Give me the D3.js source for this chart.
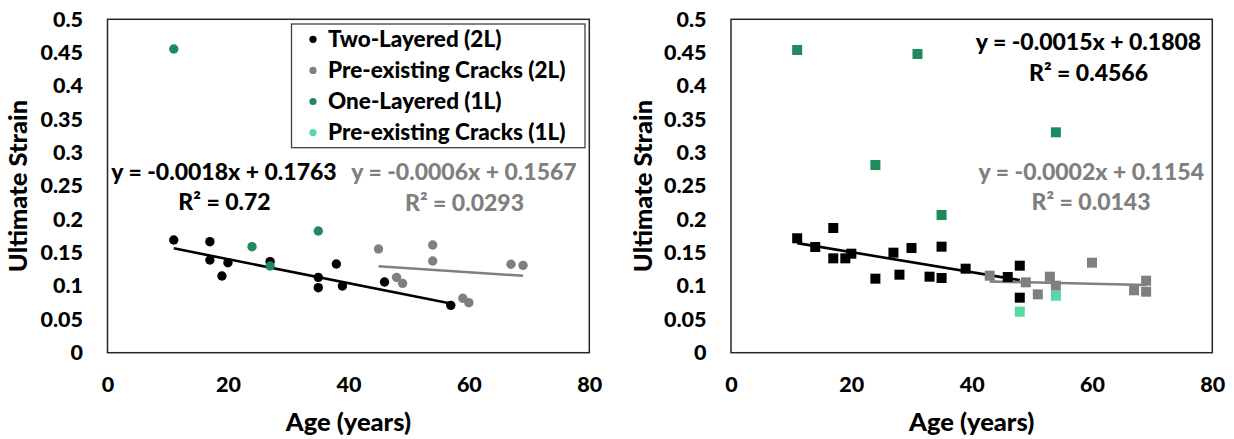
<!DOCTYPE html>
<html>
<head>
<meta charset="utf-8">
<script src="https://cdn.jsdelivr.net/npm/d3@7"></script>
<style>
  html, body { margin: 0; padding: 0; background: #ffffff; }
  svg { display: block; font-family: "Lato", "Carlito", "Liberation Sans", sans-serif; font-weight: 900; }
</style>
</head>
<body>
<svg id="chart" width="1234" height="439"></svg>
<script>
// Axis ticks shared by both panels
const ageTicks = [0, 20, 40, 60, 80];
const strainTicks = [0, 0.05, 0.1, 0.15, 0.2, 0.25, 0.3, 0.35, 0.4, 0.45, 0.5];

// Series names (legend)
const seriesNames = ["Two-Layered (2L)", "Pre-existing Cracks (2L)", "One-Layered (1L)", "Pre-existing Cracks (1L)"];

// Left panel: age (years) and ultimate strain
const leftTwoLayerAge    = [11, 17, 17, 20, 19, 27, 35, 35, 38, 39, 46, 57];
const leftTwoLayerStrain = [0.169, 0.1665, 0.139, 0.135, 0.115, 0.1365, 0.113, 0.0975, 0.133, 0.100, 0.106, 0.071];
const leftCrack2LAge     = [45, 54, 54, 48, 49, 59, 60, 67, 69];
const leftCrack2LStrain  = [0.1555, 0.1615, 0.1375, 0.113, 0.104, 0.0816, 0.075, 0.1326, 0.131];
const leftOneLayerAge    = [11, 24, 35, 27];
const leftOneLayerStrain = [0.4555, 0.159, 0.1825, 0.130];
const leftCrack1LAge     = [];
const leftCrack1LStrain  = [];

// Right panel: age (years) and ultimate strain
const rightTwoLayerAge    = [11, 14, 17, 17, 19, 20, 24, 27, 28, 30, 33, 35, 35, 39, 46, 48, 48];
const rightTwoLayerStrain = [0.1716, 0.1585, 0.187, 0.1415, 0.1415, 0.1485, 0.111, 0.150, 0.117, 0.157, 0.114, 0.159, 0.112, 0.126, 0.1135, 0.1305, 0.0825];
const rightCrack2LAge     = [43, 49, 51, 53, 54, 60, 67, 69, 69];
const rightCrack2LStrain  = [0.1155, 0.1055, 0.0875, 0.114, 0.1005, 0.135, 0.0936, 0.108, 0.0915];
const rightOneLayerAge    = [11, 31, 24, 35, 54];
const rightOneLayerStrain = [0.454, 0.448, 0.2815, 0.2065, 0.3305];
const rightCrack1LAge     = [48, 54];
const rightCrack1LStrain  = [0.0615, 0.0855];

// Linear fits: slope, intercept, R² (left 2L, left cracks 2L, right 2L, right cracks 2L)
const fitSlopes     = [-0.0018, -0.0006, -0.0015, -0.0002];
const fitIntercepts = [0.1763, 0.1567, 0.1808, 0.1154];
const fitR2         = ["0.72", "0.0293", "0.4566", "0.0143"];

const colors = ["#000000", "#7f7f7f", "#1f8a5c", "#5ad8a3"];

const zip = (xs, ys) => xs.map((x, i) => ({ age: x, strain: ys[i] }));
const fmtCoef = v => (v < 0 ? "-" : "") + Math.abs(v).toFixed(4);

const panels = [
  {
    range: [107.5, 589.3],
    shape: "circle",
    series: [
      zip(leftTwoLayerAge, leftTwoLayerStrain),
      zip(leftCrack2LAge, leftCrack2LStrain),
      zip(leftOneLayerAge, leftOneLayerStrain),
      zip(leftCrack1LAge, leftCrack1LStrain)
    ],
    fits: [
      { k: 0, series: 0, eq: [224, 171.7], r2: [224.5, 201.7] },
      { k: 1, series: 1, eq: [464, 171.7], r2: [464.5, 203] }
    ],
    legend: true,
    titleX: 18
  },
  {
    range: [731, 1212.3],
    shape: "square",
    series: [
      zip(rightTwoLayerAge, rightTwoLayerStrain),
      zip(rightCrack2LAge, rightCrack2LStrain),
      zip(rightOneLayerAge, rightOneLayerStrain),
      zip(rightCrack1LAge, rightCrack1LStrain)
    ],
    fits: [
      { k: 2, series: 0, eq: [1088.5, 41.7], r2: [1088.5, 73.3] },
      { k: 3, series: 1, eq: [1091.3, 171.7], r2: [1091, 201.7] }
    ],
    legend: false,
    titleX: 643
  }
];

const svg = d3.select("#chart");
const yTop = 19.3, yBottom = 352.7;

panels.forEach(p => {
  const x = d3.scaleLinear().domain([0, 80]).range(p.range);
  const y = d3.scaleLinear().domain([0, 0.5]).range([yBottom, yTop]);
  const g = svg.append("g");

  // plot area frame
  g.append("rect")
    .attr("x", p.range[0]).attr("y", yTop)
    .attr("width", p.range[1] - p.range[0]).attr("height", yBottom - yTop)
    .attr("fill", "#ffffff").attr("stroke", "#262626").attr("stroke-width", 1.5);

  // axes
  const yAxis = g.append("g")
    .attr("transform", `translate(${p.range[0]},0)`)
    .call(d3.axisLeft(y).tickValues(strainTicks).tickSize(0).tickPadding(24.5).tickFormat(d => String(+d.toFixed(2))));
  const xAxis = g.append("g")
    .attr("transform", `translate(0,${yBottom})`)
    .call(d3.axisBottom(x).tickValues(ageTicks).tickSize(0).tickPadding(24).tickFormat(d3.format("d")));
  [yAxis, xAxis].forEach(a => {
    a.select(".domain").remove();
    a.selectAll("text")
      .attr("fill", "#000000")
      .style("font-family", "Lato, Carlito, sans-serif")
      .style("font-weight", "900")
      .style("font-size", "21.5px");
  });

  // axis titles
  g.append("text")
    .attr("transform", `translate(${p.titleX},${(yTop + yBottom) / 2}) rotate(-90)`)
    .attr("text-anchor", "middle").attr("dy", "0.35em")
    .style("font-size", "25.5px").attr("fill", "#000")
    .text("Ultimate Strain");
  g.append("text")
    .attr("x", (p.range[0] + p.range[1]) / 2).attr("y", 422)
    .attr("text-anchor", "middle").attr("dy", "0.35em")
    .style("font-size", "25.5px").attr("fill", "#000")
    .text("Age (years)");

  // trend lines (drawn over the fitted range of each series)
  p.fits.forEach(f => {
    const ages = p.series[f.series].map(d => d.age);
    const a0 = d3.min(ages), a1 = d3.max(ages);
    const line = d3.line().x(d => x(d)).y(d => y(fitSlopes[f.k] * d + fitIntercepts[f.k]));
    g.append("path")
      .attr("d", line([a0, a1]))
      .attr("fill", "none")
      .attr("stroke", colors[f.series])
      .attr("stroke-width", 2.6);
  });

  // markers
  p.series.forEach((data, si) => {
    const sg = g.append("g").attr("fill", colors[si]);
    if (p.shape === "circle") {
      sg.selectAll("circle").data(data).join("circle")
        .attr("cx", d => x(d.age)).attr("cy", d => y(d.strain)).attr("r", 4.7);
    } else {
      const s = 10;
      sg.selectAll("rect").data(data).join("rect")
        .attr("x", d => x(d.age) - s / 2).attr("y", d => y(d.strain) - s / 2)
        .attr("width", s).attr("height", s);
    }
  });

  // regression labels
  p.fits.forEach(f => {
    const c = colors[f.series];
    g.append("text")
      .attr("x", f.eq[0]).attr("y", f.eq[1]).attr("dy", "0.35em")
      .attr("text-anchor", "middle").style("font-size", "23px").attr("fill", c)
      .text(`y = ${fmtCoef(fitSlopes[f.k])}x + ${fitIntercepts[f.k].toFixed(4)}`);
    g.append("text")
      .attr("x", f.r2[0]).attr("y", f.r2[1]).attr("dy", "0.35em")
      .attr("text-anchor", "middle").style("font-size", "23px").attr("fill", c)
      .text(`R² = ${fitR2[f.k]}`);
  });

  // legend
  if (p.legend) {
    const lg = g.append("g");
    lg.append("rect")
      .attr("x", 291.5).attr("y", 24).attr("width", 293.5).attr("height", 123.7)
      .attr("fill", "#ffffff").attr("stroke", "#404040").attr("stroke-width", 1.3);
    seriesNames.forEach((name, i) => {
      const cy = 39.3 + i * 31.1;
      lg.append("circle").attr("cx", 313).attr("cy", cy).attr("r", 3.6).attr("fill", colors[i]);
      lg.append("text")
        .attr("x", 328).attr("y", cy).attr("dy", "0.35em")
        .style("font-size", "22.5px").attr("fill", "#000")
        .text(name);
    });
  }
});
</script>
</body>
</html>
